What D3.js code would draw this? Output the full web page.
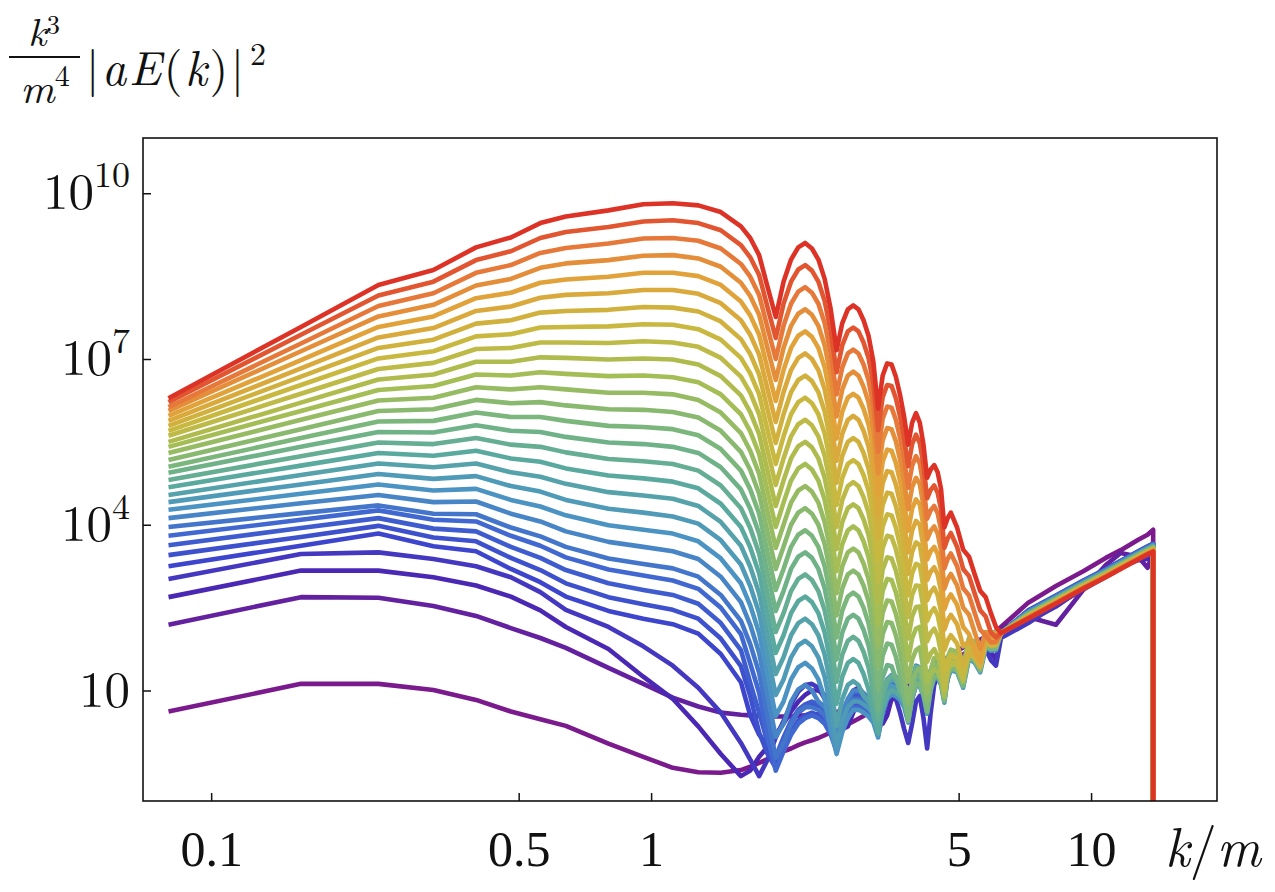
<!DOCTYPE html>
<html>
<head>
<meta charset="utf-8">
<title>Spectrum snapshots</title>
<script src="https://cdn.jsdelivr.net/npm/d3@7"></script>
<style>
  body { margin: 0; background: #fff; }
  text { font-family: "Latin Modern Roman", "CMU Serif", "Liberation Serif", serif; fill: #111; }
</style>
</head>
<body>
<svg id="chart" width="1275" height="892"></svg>
<script>
// lattice mode numbers, k = n * dk  (last entry repeated: spectrum is zero past the cutoff)
var dk = 0.08;
var modeN = [1,2,3,4,5,6,7,8,10,12,14,16,18,20,
  21,22,23,24,25,26,27,28,29,30,31,32,33,34,35,36,37,38,39,40,
  41,42,43,44,45,46,47,48,49,50,51,52,53,54,55,56,57,58,59,60,
  62,64,66,68,70,72,74,76,78,
  90,104,120,135,146,160,168,173,173];

// log10 of k^3/m^4 |aE(k)|^2, one row per snapshot, earliest (purple) first
var snapshots = [
  [0.62,1.12,1.12,1.01,0.83,0.62,0.48,0.36,0.04,-0.20,-0.40,-0.48,-0.49,-0.44,
   -0.38,-0.31,-0.24,-0.17,-0.10,-0.05,0.01,0.06,0.10,0.14,0.19,0.24,0.30,0.34,0.39,0.44,0.49,0.54,0.59,0.64,
   0.68,0.73,0.78,0.83,0.88,0.92,0.96,1.00,1.04,1.08,1.12,1.16,1.20,1.24,1.28,1.33,1.38,1.42,1.46,1.50,
   1.58,1.65,1.73,1.80,1.86,1.93,2.00,2.07,2.15, 2.59,2.89,3.16,3.40,3.54,3.73,3.82,3.91, -3],
  [2.19,2.69,2.68,2.53,2.35,2.13,1.95,1.77,1.41,1.12,0.87,0.71,0.60,0.56,
   0.55,0.54,0.53,0.53,0.53,0.53,0.54,0.55,0.56,0.57,0.58,0.60,0.61,0.64,0.67,0.70,0.73,0.76,0.80,0.83,
   0.87,0.90,0.94,0.97,1.01,1.05,1.08,1.12,1.15,1.19,1.23,1.27,1.31,1.35,1.40,1.45,1.50,1.55,1.60,1.65,
   1.72,1.78,1.83,1.88,1.92,1.97,2.02,2.06,2.10, 2.33,2.19,2.82,3.27,3.49,3.42,3.22,3.49, -3],
  [2.69,3.17,3.17,3.05,2.90,2.70,2.45,2.15,1.75,1.25,0.85,0.35,-0.15,-0.55,
   -0.45,-0.20,-0.02,0.20,0.40,0.62,0.80,0.92,1.00,1.00,0.92,0.75,0.50,0.30,0.35,0.60,0.80,0.90,0.92,0.85,
   0.65,0.40,0.55,0.85,1.00,1.05,0.95,0.70,0.85,1.10,1.20,1.15,0.90,1.05,1.30,1.40,1.35,1.20,1.35,1.55,
   1.60,1.45,1.70,1.75,1.60,1.85,1.70,1.55,2.00, 2.25,2.52,2.86,3.08,3.24,3.36,3.38,3.48, -3],
  [3.02,3.47,3.50,3.38,3.25,3.05,2.78,2.46,2.15,1.80,1.45,1.05,0.60,0.05,
   -0.25,-0.55,-0.25,0.15,0.45,0.75,0.98,1.10,1.12,1.05,0.85,0.50,0.15,0.45,0.80,1.00,1.05,0.95,0.75,0.45,
   0.20,0.55,0.85,0.95,0.85,0.60,0.30,0.05,0.40,0.80,0.90,0.50,-0.05,0.60,1.10,1.25,1.20,0.95,1.20,1.40,
   1.50,1.30,1.60,1.70,1.50,1.75,1.55,1.45,1.95, 2.22,2.55,2.83,3.06,3.22,3.38,3.44,3.49, -3],
  [3.25,3.62,3.84,3.61,3.52,3.20,2.96,2.70,2.44,2.30,2.20,2.03,1.66,1.15,
   0.55,0.20,0.00,-0.25,0.10,0.40,0.60,0.70,0.75,0.70,0.60,0.40,0.10,0.50,0.75,0.90,0.90,0.85,0.78,0.67,
   0.40,0.85,1.10,1.18,1.15,1.08,0.95,0.67,1.10,1.35,1.32,1.15,0.83,1.25,1.47,1.48,1.35,1.03,1.47,1.62,
   1.58,1.30,1.83,1.75,1.58,2.03,1.97,1.98,2.04, 2.45,2.72,2.99,3.20,3.35,3.52,3.61,3.66, -3],
  [3.45,3.78,3.98,3.77,3.70,3.40,3.18,2.94,2.69,2.56,2.46,2.30,1.94,1.44,
   0.90,0.24,-0.15,-0.40,-0.05,0.25,0.45,0.55,0.60,0.55,0.45,0.25,-0.05,0.35,0.60,0.75,0.75,0.70,0.63,0.52,
   0.25,0.70,0.95,1.03,1.00,0.93,0.80,0.52,0.95,1.20,1.17,1.00,0.68,1.10,1.32,1.33,1.20,0.88,1.32,1.47,
   1.43,1.15,1.68,1.60,1.43,1.88,1.82,1.83,2.04, 2.44,2.71,2.98,3.19,3.34,3.51,3.60,3.65, -3],
  [3.63,3.94,4.12,3.93,3.88,3.60,3.40,3.18,2.94,2.82,2.73,2.57,2.22,1.73,
   1.14,0.60,0.05,-0.20,0.15,0.45,0.65,0.75,0.80,0.75,0.65,0.45,0.15,0.55,0.80,0.95,0.95,0.90,0.83,0.72,
   0.45,0.90,1.15,1.23,1.20,1.13,1.00,0.72,1.15,1.40,1.37,1.20,0.88,1.30,1.52,1.53,1.40,1.08,1.52,1.67,
   1.63,1.35,1.88,1.80,1.63,2.05,2.02,2.03,2.04, 2.44,2.71,2.98,3.19,3.34,3.51,3.60,3.65, -3],
  [3.80,4.09,4.26,4.09,4.06,3.80,3.62,3.41,3.19,3.08,2.99,2.84,2.50,2.02,
   1.49,0.96,0.16,-0.45,-0.10,0.20,0.40,0.50,0.55,0.50,0.40,0.20,-0.10,0.30,0.55,0.70,0.70,0.65,0.58,0.47,
   0.20,0.65,0.90,0.98,0.95,0.88,0.75,0.47,0.90,1.15,1.12,0.95,0.63,1.05,1.27,1.28,1.15,0.83,1.27,1.42,
   1.38,1.10,1.63,1.55,1.38,1.83,1.77,1.78,2.04, 2.43,2.70,2.97,3.18,3.33,3.50,3.59,3.64, -3],
  [3.96,4.21,4.35,4.20,4.19,3.95,3.79,3.60,3.39,3.29,3.21,3.06,2.73,2.26,
   1.84,1.32,0.53,-0.22,0.05,0.40,0.62,0.70,0.70,0.65,0.55,0.35,0.05,0.45,0.70,0.85,0.85,0.80,0.73,0.62,
   0.35,0.80,1.05,1.13,1.10,1.03,0.90,0.62,1.05,1.30,1.27,1.10,0.78,1.20,1.42,1.43,1.30,0.98,1.42,1.57,
   1.53,1.25,1.78,1.70,1.53,1.98,1.92,1.93,2.04, 2.43,2.70,2.97,3.18,3.33,3.50,3.59,3.64, -3],
  [4.12,4.39,4.54,4.41,4.42,4.20,4.06,3.88,3.69,3.60,3.52,3.38,3.06,2.60,
   2.19,1.68,0.90,0.16,0.40,0.80,1.02,1.10,1.00,0.80,0.70,0.50,0.20,0.60,0.85,1.00,1.00,0.95,0.88,0.77,
   0.50,0.95,1.20,1.28,1.25,1.18,1.05,0.77,1.20,1.45,1.42,1.25,0.93,1.35,1.57,1.58,1.45,1.13,1.57,1.72,
   1.68,1.40,1.93,1.85,1.68,2.05,2.05,2.05,2.04, 2.42,2.69,2.96,3.17,3.32,3.49,3.58,3.63, -3],
  [4.27,4.56,4.73,4.62,4.65,4.45,4.33,4.17,3.99,3.91,3.84,3.70,3.39,2.94,
   2.54,2.04,1.27,0.54,0.80,1.20,1.42,1.50,1.40,1.20,0.85,0.30,-0.15,0.25,0.50,0.65,0.65,0.60,0.53,0.42,
   0.15,0.60,0.85,0.93,0.90,0.83,0.70,0.42,0.85,1.10,1.07,0.90,0.58,1.00,1.22,1.23,1.10,0.78,1.22,1.37,
   1.33,1.05,1.58,1.50,1.33,1.78,1.72,1.73,2.04, 2.41,2.68,2.95,3.16,3.31,3.48,3.57,3.62, -3],
  [4.41,4.73,4.92,4.83,4.88,4.70,4.60,4.45,4.29,4.22,4.15,4.02,3.72,3.28,
   2.89,2.40,1.64,0.92,1.20,1.60,1.82,1.90,1.80,1.60,1.25,0.70,0.00,0.45,0.70,0.80,0.80,0.75,0.68,0.57,
   0.30,0.75,1.00,1.08,1.05,0.98,0.85,0.57,1.00,1.25,1.22,1.05,0.73,1.15,1.37,1.38,1.25,0.93,1.37,1.52,
   1.48,1.20,1.73,1.65,1.48,1.93,1.87,1.88,2.04, 2.41,2.68,2.95,3.16,3.31,3.48,3.57,3.62, -3],
  [4.54,4.90,5.11,5.04,5.11,4.95,4.87,4.74,4.59,4.53,4.47,4.34,4.05,3.62,
   3.24,2.76,2.01,1.30,1.60,2.00,2.22,2.30,2.20,2.00,1.65,1.10,0.36,0.85,1.10,1.17,1.10,0.90,0.80,0.69,
   0.42,0.87,1.12,1.20,1.17,1.10,0.97,0.69,1.12,1.37,1.34,1.17,0.85,1.27,1.49,1.50,1.37,1.05,1.49,1.64,
   1.60,1.32,1.85,1.77,1.60,2.05,1.99,2.00,2.04, 2.40,2.67,2.94,3.15,3.30,3.47,3.56,3.61, -3],
  [4.68,5.07,5.30,5.25,5.34,5.20,5.14,5.02,4.89,4.84,4.78,4.66,4.38,3.96,
   3.59,3.12,2.38,1.68,2.00,2.40,2.62,2.70,2.60,2.40,2.05,1.50,0.76,1.25,1.50,1.57,1.50,1.30,1.02,0.55,
   0.22,0.67,0.92,1.00,0.97,0.90,0.77,0.49,0.92,1.17,1.14,0.97,0.65,1.07,1.29,1.30,1.17,0.85,1.29,1.44,
   1.40,1.12,1.65,1.57,1.40,1.85,1.79,1.80,2.04, 2.40,2.67,2.94,3.15,3.30,3.47,3.56,3.61, -3],
  [4.81,5.24,5.49,5.46,5.57,5.45,5.41,5.31,5.19,5.15,5.10,4.98,4.71,4.30,
   3.94,3.48,2.75,2.06,2.40,2.80,3.02,3.10,3.00,2.80,2.45,1.90,1.16,1.65,1.90,1.97,1.90,1.70,1.42,0.95,
   0.48,0.93,1.18,1.26,1.23,1.16,1.03,0.75,1.18,1.43,1.40,1.23,0.91,1.33,1.55,1.56,1.43,1.11,1.55,1.70,
   1.66,1.38,1.91,1.83,1.66,2.05,2.05,2.05,2.04, 2.39,2.66,2.93,3.14,3.29,3.46,3.55,3.60, -3],
  [4.94,5.41,5.68,5.67,5.80,5.70,5.68,5.59,5.49,5.46,5.41,5.30,5.04,4.64,
   4.29,3.84,3.12,2.44,2.80,3.20,3.42,3.50,3.40,3.20,2.85,2.30,1.56,2.05,2.30,2.37,2.30,2.10,1.82,1.35,
   0.64,1.24,1.46,1.44,1.22,1.00,0.87,0.59,1.02,1.27,1.24,1.07,0.75,1.17,1.39,1.40,1.27,0.95,1.39,1.54,
   1.50,1.22,1.75,1.67,1.50,1.95,1.89,1.90,2.04, 2.38,2.65,2.92,3.13,3.28,3.45,3.54,3.59, -3],
  [5.05,5.57,5.87,5.88,6.03,5.95,5.95,5.88,5.79,5.77,5.73,5.62,5.37,4.98,
   4.64,4.20,3.49,2.82,3.20,3.60,3.82,3.90,3.80,3.60,3.25,2.70,1.96,2.45,2.70,2.77,2.70,2.50,2.22,1.75,
   1.03,1.63,1.85,1.83,1.61,1.28,0.88,0.45,0.88,1.13,1.10,0.93,0.61,1.03,1.25,1.26,1.13,0.81,1.25,1.40,
   1.36,1.08,1.61,1.53,1.36,1.81,1.75,1.76,2.04, 2.38,2.65,2.92,3.13,3.28,3.45,3.54,3.59, -3],
  [5.17,5.73,6.06,6.09,6.26,6.20,6.22,6.16,6.09,6.08,6.04,5.94,5.70,5.32,
   4.99,4.56,3.86,3.20,3.60,4.00,4.22,4.30,4.20,4.00,3.65,3.10,2.36,2.85,3.10,3.17,3.10,2.90,2.62,2.15,
   1.42,2.02,2.24,2.22,2.00,1.67,1.27,0.77,1.17,1.34,1.41,1.13,0.81,1.23,1.45,1.46,1.33,1.01,1.45,1.60,
   1.56,1.28,1.81,1.73,1.56,2.01,1.95,1.96,2.04, 2.37,2.64,2.91,3.12,3.27,3.44,3.53,3.58, -3],
  [5.30,5.90,6.25,6.30,6.49,6.45,6.49,6.45,6.39,6.39,6.36,6.26,6.03,5.66,
   5.34,4.92,4.23,3.58,4.00,4.40,4.62,4.70,4.60,4.40,4.05,3.50,2.76,3.25,3.50,3.57,3.50,3.30,3.02,2.55,
   1.81,2.41,2.63,2.61,2.39,2.06,1.66,1.16,1.56,1.73,1.78,1.38,0.95,1.37,1.59,1.60,1.47,1.15,1.59,1.74,
   1.70,1.42,1.95,1.87,1.70,2.05,2.05,2.05,2.04, 2.37,2.64,2.91,3.12,3.27,3.44,3.53,3.58, -3],
  [5.41,6.06,6.44,6.51,6.72,6.70,6.76,6.73,6.69,6.70,6.67,6.58,6.36,6.00,
   5.69,5.28,4.60,3.96,4.40,4.80,5.02,5.10,5.00,4.80,4.45,3.90,3.16,3.65,3.90,3.97,3.90,3.70,3.42,2.95,
   2.20,2.80,3.02,3.00,2.78,2.45,2.05,1.55,1.95,2.12,2.15,1.75,1.15,1.30,1.38,1.34,1.21,0.89,1.33,1.48,
   1.44,1.16,1.69,1.61,1.44,1.89,1.83,1.84,2.04, 2.36,2.63,2.90,3.11,3.26,3.43,3.52,3.57, -3],
  [5.50,6.21,6.63,6.72,6.95,6.95,7.03,7.02,6.99,7.01,6.99,6.90,6.69,6.34,
   6.04,5.64,4.97,4.34,4.80,5.20,5.42,5.50,5.40,5.20,4.85,4.30,3.56,4.05,4.30,4.37,4.30,4.10,3.82,3.35,
   2.59,3.19,3.41,3.39,3.17,2.84,2.44,1.94,2.34,2.51,2.52,2.12,1.52,1.67,1.75,1.62,1.39,1.07,1.51,1.66,
   1.62,1.34,1.87,1.79,1.62,2.05,2.01,2.02,2.04, 2.35,2.62,2.89,3.10,3.25,3.42,3.51,3.56, -3],
  [5.61,6.37,6.82,6.93,7.18,7.20,7.30,7.30,7.29,7.32,7.30,7.22,7.02,6.68,
   6.39,6.00,5.34,4.72,5.20,5.60,5.82,5.90,5.80,5.60,5.25,4.70,3.96,4.45,4.70,4.77,4.70,4.50,4.22,3.75,
   2.98,3.58,3.80,3.78,3.56,3.23,2.83,2.33,2.73,2.90,2.89,2.49,1.89,2.04,2.12,1.99,1.69,0.99,1.37,1.52,
   1.48,1.20,1.73,1.65,1.48,1.93,1.87,1.88,2.04, 2.35,2.62,2.89,3.10,3.25,3.42,3.51,3.56, -3],
  [5.70,6.53,7.01,7.14,7.41,7.45,7.57,7.58,7.59,7.63,7.62,7.54,7.35,7.02,
   6.74,6.36,5.71,5.10,5.60,6.00,6.22,6.30,6.20,6.00,5.65,5.10,4.36,4.85,5.10,5.17,5.10,4.90,4.62,4.15,
   3.37,3.97,4.19,4.17,3.95,3.62,3.22,2.72,3.12,3.29,3.26,2.86,2.26,2.41,2.49,2.36,2.06,1.36,1.53,1.63,
   1.58,1.30,1.83,1.75,1.58,2.03,1.97,1.98,2.04, 2.34,2.61,2.88,3.09,3.24,3.41,3.50,3.55, -3],
  [5.79,6.68,7.20,7.35,7.64,7.70,7.84,7.87,7.89,7.94,7.93,7.86,7.68,7.36,
   7.09,6.72,6.08,5.48,6.00,6.40,6.62,6.70,6.60,6.40,6.05,5.50,4.76,5.25,5.50,5.57,5.50,5.30,5.02,4.55,
   3.76,4.36,4.58,4.56,4.34,4.01,3.61,3.11,3.51,3.68,3.63,3.23,2.63,2.78,2.86,2.73,2.43,1.73,1.90,2.00,
   1.85,1.45,1.67,1.59,1.42,1.87,1.81,1.82,2.04, 2.34,2.61,2.88,3.09,3.24,3.41,3.50,3.55, -3],
  [5.88,6.83,7.39,7.56,7.87,7.95,8.11,8.16,8.19,8.25,8.25,8.18,8.01,7.70,
   7.44,7.08,6.45,5.86,6.40,6.80,7.02,7.10,7.00,6.80,6.45,5.90,5.16,5.65,5.90,5.97,5.90,5.70,5.42,4.95,
   4.15,4.75,4.97,4.95,4.73,4.40,4.00,3.50,3.90,4.07,4.00,3.60,3.00,3.15,3.23,3.10,2.80,2.10,2.27,2.37,
   2.20,1.80,1.89,1.81,1.64,2.05,2.03,2.04,2.04, 2.33,2.60,2.87,3.08,3.23,3.40,3.49,3.54, -3],
  [5.97,6.98,7.58,7.77,8.10,8.20,8.38,8.44,8.49,8.56,8.56,8.50,8.34,8.04,
   7.79,7.44,6.82,6.24,6.80,7.20,7.42,7.50,7.40,7.20,6.85,6.30,5.56,6.05,6.30,6.37,6.30,6.10,5.82,5.35,
   4.54,5.14,5.36,5.34,5.12,4.79,4.39,3.89,4.29,4.46,4.37,3.97,3.37,3.52,3.60,3.47,3.17,2.47,2.64,2.74,
   2.55,2.15,2.02,1.70,1.52,1.97,1.91,1.92,2.04, 2.32,2.59,2.86,3.07,3.22,3.39,3.48,3.53, -3],
  [6.06,7.14,7.77,7.98,8.33,8.45,8.65,8.73,8.79,8.87,8.88,8.82,8.67,8.38,
   8.14,7.80,7.19,6.62,7.20,7.60,7.82,7.90,7.80,7.60,7.25,6.70,5.96,6.45,6.70,6.77,6.70,6.50,6.22,5.75,
   4.93,5.53,5.75,5.73,5.51,5.18,4.78,4.28,4.68,4.85,4.74,4.34,3.74,3.89,3.97,3.84,3.54,2.84,3.01,3.11,
   2.90,2.50,2.37,2.05,1.75,2.05,1.99,2.00,2.04, 2.32,2.59,2.86,3.07,3.22,3.39,3.48,3.53, -3],
  [6.13,7.28,7.96,8.19,8.56,8.70,8.92,9.01,9.09,9.18,9.19,9.14,9.00,8.72,
   8.49,8.16,7.56,7.00,7.60,8.00,8.22,8.30,8.20,8.00,7.65,7.10,6.36,6.85,7.10,7.17,7.10,6.90,6.62,6.15,
   5.32,5.92,6.14,6.12,5.90,5.57,5.17,4.67,5.07,5.24,5.11,4.71,4.11,4.26,4.34,4.21,3.91,3.21,3.38,3.48,
   3.25,2.85,2.72,2.40,2.10,1.99,1.87,1.88,2.04, 2.31,2.58,2.85,3.06,3.21,3.38,3.47,3.52, -3],
  [6.22,7.44,8.15,8.40,8.79,8.95,9.19,9.30,9.39,9.49,9.51,9.46,9.33,9.06,
   8.84,8.52,7.93,7.38,8.00,8.40,8.62,8.70,8.60,8.40,8.05,7.50,6.76,7.25,7.50,7.57,7.50,7.30,7.02,6.55,
   5.71,6.31,6.53,6.51,6.29,5.96,5.56,5.06,5.46,5.63,5.48,5.08,4.48,4.63,4.71,4.58,4.28,3.58,3.75,3.85,
   3.60,3.20,3.07,2.75,2.45,2.34,2.05,1.96,2.04, 2.31,2.58,2.85,3.06,3.21,3.38,3.47,3.52, -3],
  [6.29,7.58,8.34,8.61,9.02,9.20,9.46,9.58,9.69,9.80,9.82,9.78,9.66,9.40,
   9.19,8.88,8.30,7.76,8.40,8.80,9.02,9.10,9.00,8.80,8.45,7.90,7.16,7.65,7.90,7.97,7.90,7.70,7.42,6.95,
   6.10,6.70,6.92,6.90,6.68,6.35,5.95,5.45,5.85,6.02,5.85,5.45,4.85,5.00,5.08,4.95,4.65,3.95,4.12,4.22,
   3.95,3.55,3.42,3.10,2.80,2.69,2.40,2.15,2.04, 2.30,2.57,2.84,3.05,3.20,3.37,3.46,3.51, -3]
];

// rainbow colour map anchored at snapshot indices
var colorIdx = [0, 2, 4, 7, 10, 13, 16, 19, 22, 25, 27, 29];
var colorHex = ["#7b1a8c", "#4b28b4", "#3d45cc", "#4068d0", "#4a93c2", "#5aa99f",
                "#7bb67c", "#a4bd55", "#c9b840", "#e1a23a", "#e6793a", "#dc3326"];

var xTicks = [0.1, 0.5, 1, 5, 10];
var xTickLabels = ["0.1", "0.5", "1", "5", "10"];
var yTickExp = [1, 4, 7, 10];

var margin = {top: 138, right: 58, bottom: 91, left: 143};
var width = 1275 - margin.left - margin.right;
var height = 892 - margin.top - margin.bottom;

var svg = d3.select("#chart");
var g = svg.append("g").attr("transform", "translate(" + margin.left + "," + margin.top + ")");

var x = d3.scaleLog().domain([0.07, 19.33]).range([0, width]);
var y = d3.scaleLog().domain([0.1, 1e11]).range([height, 0]);
var color = d3.scaleLinear().domain(colorIdx).range(colorHex).interpolate(d3.interpolateRgb);

g.append("clipPath").attr("id", "plotclip")
  .append("rect").attr("width", width).attr("height", height);

var line = d3.line()
  .x(function (d, j) { return x(modeN[j] * dk); })
  .y(function (d) { return y(Math.pow(10, d)); });

g.append("g").attr("clip-path", "url(#plotclip)")
  .selectAll("path")
  .data(snapshots)
  .enter().append("path")
  .attr("d", line)
  .attr("fill", "none")
  .attr("stroke", function (d, i) { return color(i); })
  .attr("stroke-width", 4.6)
  .attr("stroke-linejoin", "round");

// x axis, ticks pointing inwards
var xAxis = g.append("g")
  .attr("transform", "translate(0," + height + ")")
  .call(d3.axisBottom(x).tickValues(xTicks).tickSizeInner(-8).tickSizeOuter(0)
    .tickPadding(29).tickFormat(function (d, i) { return xTickLabels[i]; }));
xAxis.select(".domain").remove();
xAxis.selectAll("line").attr("stroke", "#111").attr("stroke-width", 1.5);
xAxis.selectAll("text").attr("font-size", 50).attr("fill", "#111")
  .style("font-family", '"Liberation Serif", serif');

// y axis
var yAxis = g.append("g")
  .call(d3.axisLeft(y).tickValues(yTickExp.map(function (e) { return Math.pow(10, e); }))
    .tickSizeInner(-8).tickSizeOuter(0).tickFormat(""));
yAxis.select(".domain").remove();
yAxis.selectAll("line").attr("stroke", "#111").attr("stroke-width", 1.5);

var yLab = g.append("g").selectAll("text")
  .data(yTickExp)
  .enter().append("text")
  .attr("x", -13)
  .attr("y", function (e) { return y(Math.pow(10, e)) + 16; })
  .attr("text-anchor", "end")
  .attr("font-size", 51);
yLab.append("tspan").text("10");
yLab.filter(function (e) { return e !== 1; })
  .append("tspan").attr("dy", -22).attr("font-size", 36)
  .text(function (e) { return String(e); });

// frame
g.append("rect").attr("width", width).attr("height", height)
  .attr("fill", "none").attr("stroke", "#111").attr("stroke-width", 1.6);

// x label k/m
var xl = svg.append("text").attr("x", 1165).attr("y", 866).attr("font-size", 54)
  .attr("textLength", 96).attr("lengthAdjust", "spacing");
xl.append("tspan").attr("font-style", "italic").text("k");
xl.append("tspan").text("/");
xl.append("tspan").attr("font-style", "italic").text("m");

// y label: k^3/m^4 |aE(k)|^2
var num = svg.append("text").attr("x", 44).attr("y", 46).attr("text-anchor", "middle").attr("font-size", 40);
num.append("tspan").attr("font-style", "italic").text("k");
num.append("tspan").attr("dy", -12).attr("font-size", 27).text("3");
svg.append("line").attr("x1", 9).attr("x2", 80).attr("y1", 57).attr("y2", 57)
  .attr("stroke", "#111").attr("stroke-width", 2);
var den = svg.append("text").attr("x", 45).attr("y", 103).attr("text-anchor", "middle").attr("font-size", 42);
den.append("tspan").attr("font-style", "italic").text("m");
den.append("tspan").attr("dy", -17).attr("font-size", 30).text("4");

var rest = svg.append("text").attr("x", 86).attr("y", 85).attr("font-size", 48)
  .attr("textLength", 158).attr("lengthAdjust", "spacing");
rest.append("tspan").text("|");
rest.append("tspan").attr("font-style", "italic").text("aE");
rest.append("tspan").text("(");
rest.append("tspan").attr("font-style", "italic").text("k");
rest.append("tspan").text(")|");
svg.append("text").attr("x", 250).attr("y", 65).attr("font-size", 32).text("2");
</script>
</body>
</html>
